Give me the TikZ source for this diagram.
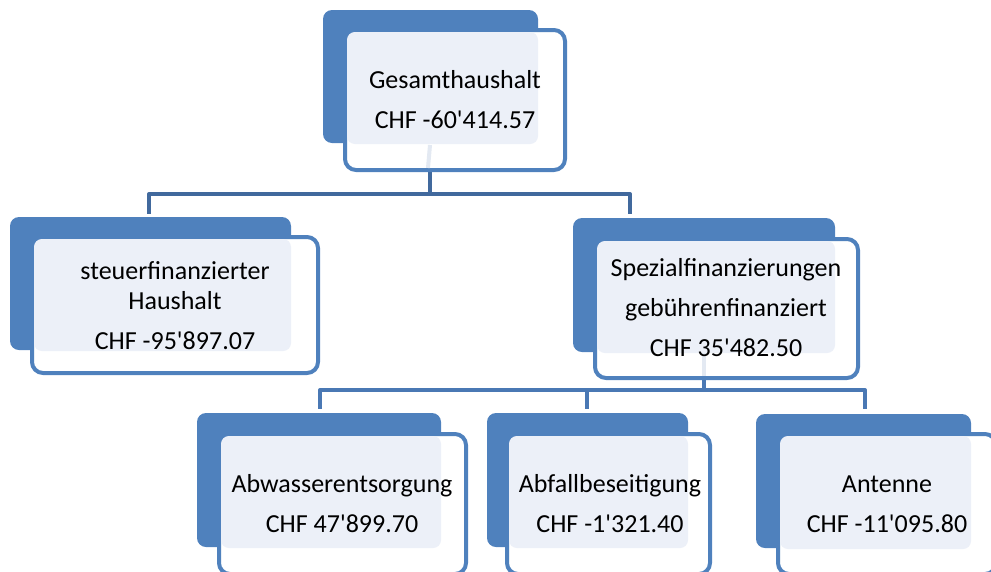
\documentclass[tikz,border=0pt]{standalone}
\usepackage{fontspec}
\setmainfont{Carlito}
\newcommand\ap{\textquotesingle}
\definecolor{backblue}{HTML}{4F81BD}
\definecolor{lightfill}{HTML}{ECF0F8}
\definecolor{connA}{HTML}{41699D}
\definecolor{connB}{HTML}{4A78B4}
\definecolor{faint}{HTML}{E3E9F2}
\tikzset{
  backrect/.style={fill=backblue, rounded corners=9pt},
  frontrect/.style={draw=backblue, fill=white, line width=4pt, rounded corners=11pt},
  lightrect/.style={fill=lightfill, rounded corners=8pt},
  label/.style={align=center, text=black, inner sep=0pt, font=\fontsize{26}{40}\selectfont},
  connline/.style={line width=4pt, line join=round},
  faintline/.style={draw=faint, line width=4pt}
}
% back x1,y1,x2,y2 ; front (stroke centre) x1,y1,x2,y2
\newcommand{\orgshape}[8]{%
  \fill[backrect] (#1,#2) rectangle (#3,#4);
  \draw[frontrect] (#5,#6) rectangle (#7,#8);
  \fill[lightrect] (#5+2,#6+2) rectangle (#3,#4+1);
}
\begin{document}
\begin{tikzpicture}[x=1pt,y=-1pt]
\useasboundingbox (0,0) rectangle (991,571);
\clip (0,0) rectangle (991,571);

% coordinates for connectors
\coordinate (g-lb) at (430,145);
\coordinate (g-bot) at (430,172);
\coordinate (g-bus) at (430,194);
\coordinate (s-top) at (149,214);
\coordinate (z-top) at (630,214);
\coordinate (z-lb) at (704,353);
\coordinate (z-bot) at (704,380);
\coordinate (z-bus) at (704,390);
\coordinate (a-top) at (320,409);
\coordinate (b-top) at (587,409);
\coordinate (c-top) at (865,409);

% connectors
\draw[connline, draw=connA] (g-bot) -- (g-bus) -| (s-top);
\draw[connline, draw=connA] (g-bus) -| (z-top);
\draw[connline, draw=connB] (z-bot) -- (z-bus) -| (a-top);
\draw[connline, draw=connB] (z-bus) -| (b-top);
\draw[connline, draw=connB] (z-bus) -| (c-top);

% boxes
\orgshape{323}{10}{538}{143}{345}{30}{565}{170}
\draw[faintline] (g-lb) -- (428,168);
\node[label] (g) at (455,100) {Gesamthaushalt\\CHF -60\ap414.57};

\orgshape{10}{217}{291}{350}{32}{237}{318}{373}
\node[label] (s) at (175,306) {steuerfinanzierter\\[-10pt]Haushalt\\CHF -95\ap897.07};

\orgshape{573}{218}{835}{352}{595}{239}{858}{378}
\draw[faintline] (z-lb) -- (704,376);
\node[label] (z) at (726,308) {Spezialfinanzierungen\\gebührenfinanziert\\CHF 35\ap482.50};

\orgshape{197}{413}{441}{547}{219}{434}{466}{574}
\node[label] (a) at (342,504) {Abwasserentsorgung\\CHF 47\ap899.70};

\orgshape{487}{413}{688}{547}{507}{434}{710}{574}
\node[label] (b) at (610,504) {Abfallbeseitigung\\CHF -1\ap321.40};

\orgshape{756}{414}{971}{548}{778}{434}{996}{574}
\node[label] (c) at (887,504) {Antenne\\CHF -11\ap095.80};
\end{tikzpicture}
\end{document}
